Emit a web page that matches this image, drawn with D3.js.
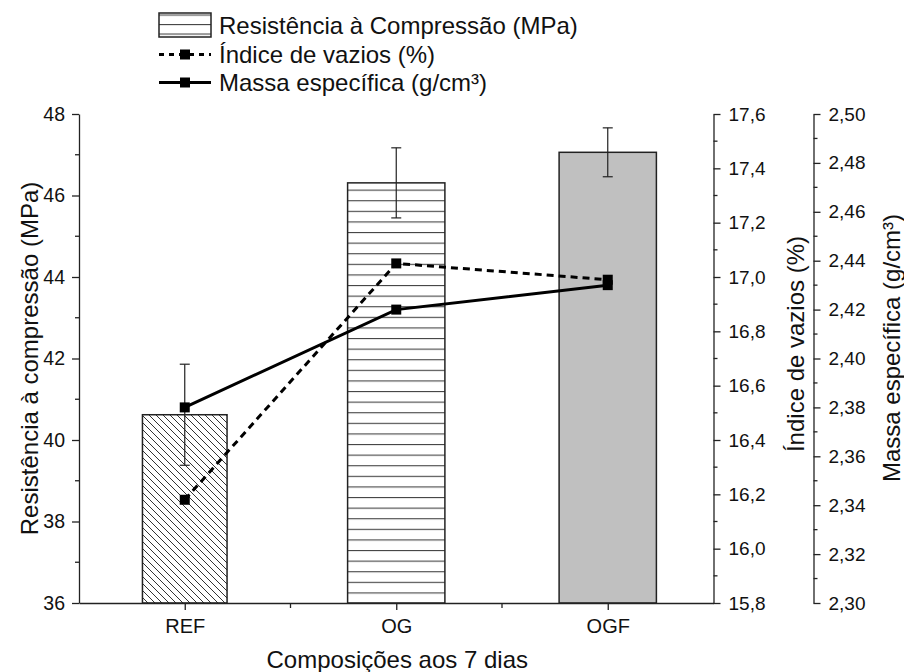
<!DOCTYPE html>
<html>
<head>
<meta charset="utf-8">
<script src="https://cdn.jsdelivr.net/npm/d3@7"></script>
<style>
  html, body { margin: 0; padding: 0; background: #fff; }
  svg { display: block; font-family: "Liberation Sans", Arial, sans-serif; }
</style>
</head>
<body>
<svg id="chart" width="904" height="672"></svg>
<script>
// ---------- data ----------
const categories = ["REF", "OG", "OGF"];
const resistencia = [40.62, 46.31, 47.06];       // MPa (bars)
const resistenciaErr = [1.24, 0.86, 0.60];       // MPa (error bars)
const indiceVazios = [16.18, 17.05, 16.99];      // %
const massaEspecifica = [2.380, 2.420, 2.430];   // g/cm³
const leftTicks = [36, 38, 40, 42, 44, 46, 48];
const indiceTicks = [15.8, 16.0, 16.2, 16.4, 16.6, 16.8, 17.0, 17.2, 17.4, 17.6];
const massaTicks = [2.30, 2.32, 2.34, 2.36, 2.38, 2.40, 2.42, 2.44, 2.46, 2.48, 2.50];
const legendLabels = ["Resistência à Compressão (MPa)", "Índice de vazios (%)", "Massa específica (g/cm³)"];

// ---------- styles ----------
const barWidthFrac = [0.40, 0.46, 0.46];
const barFills = ["url(#hatchDiag)", "url(#hatchHoriz)", "#c0c0c0"];

const svg = d3.select("#chart");
const plot = { left: 79, right: 713.5, top: 114, bottom: 603 };
const axisMassX = 813.5;

const x = d3.scaleLinear().domain([0.5, 3.5]).range([plot.left, plot.right]);
const yL = d3.scaleLinear().domain([36, 48]).range([plot.bottom, plot.top]);
const yI = d3.scaleLinear().domain([15.8, 17.6]).range([plot.bottom, plot.top]);
const yM = d3.scaleLinear().domain([2.30, 2.50]).range([plot.bottom, plot.top]);
const comma = f => v => d3.format(f)(v).replace(".", ",");

// patterns
const defs = svg.append("defs");
const pd = defs.append("pattern").attr("id", "hatchDiag").attr("patternUnits", "userSpaceOnUse")
  .attr("width", 14).attr("height", 14);
pd.append("rect").attr("width", 14).attr("height", 14).attr("fill", "#fff");
pd.append("path").attr("d", "M-7,0 L7,14 M0,0 L14,14 M7,0 L21,14 M-7,-14 L21,14")
  .attr("stroke", "#333").attr("stroke-width", 1);
const ph = defs.append("pattern").attr("id", "hatchHoriz").attr("patternUnits", "userSpaceOnUse")
  .attr("width", 20).attr("height", 10.6).attr("y", plot.bottom);
ph.append("rect").attr("width", 20).attr("height", 10.6).attr("fill", "#fff");
ph.append("line").attr("x1", 0).attr("x2", 20).attr("y1", 0.5).attr("y2", 0.5)
  .attr("stroke", "#444").attr("stroke-width", 1.2);
const phl = defs.append("pattern").attr("id", "hatchHorizLeg").attr("patternUnits", "userSpaceOnUse")
  .attr("width", 20).attr("height", 9.5).attr("y", 14.5);
phl.append("rect").attr("width", 20).attr("height", 9.5).attr("fill", "#fff");
phl.append("line").attr("x1", 0).attr("x2", 20).attr("y1", 0.5).attr("y2", 0.5)
  .attr("stroke", "#444").attr("stroke-width", 1.2);

// ---------- bars ----------
const idx = categories.map((c, i) => i);
const bw = i => barWidthFrac[i] * (x(2) - x(1));
svg.append("g").selectAll("rect").data(idx).join("rect")
  .attr("x", i => x(i + 1) - bw(i) / 2)
  .attr("width", bw)
  .attr("y", i => yL(resistencia[i]))
  .attr("height", i => yL(36) - yL(resistencia[i]))
  .attr("fill", i => barFills[i])
  .attr("stroke", "#222").attr("stroke-width", 1.5);

// error bars
const eg = svg.append("g").attr("stroke", "#222").attr("stroke-width", 1.2);
idx.forEach(i => {
  const cx = x(i + 1);
  const t = yL(resistencia[i] + resistenciaErr[i]);
  const b = yL(resistencia[i] - resistenciaErr[i]);
  eg.append("line").attr("x1", cx).attr("x2", cx).attr("y1", t).attr("y2", b);
  eg.append("line").attr("x1", cx - 5).attr("x2", cx + 5).attr("y1", t).attr("y2", t);
  eg.append("line").attr("x1", cx - 5).attr("x2", cx + 5).attr("y1", b).attr("y2", b);
});

// ---------- lines ----------
const lineI = d3.line().x((d, i) => x(i + 1)).y(d => yI(d));
const lineM = d3.line().x((d, i) => x(i + 1)).y(d => yM(d));
svg.append("path").attr("d", lineI(indiceVazios)).attr("fill", "none")
  .attr("stroke", "#000").attr("stroke-width", 3).attr("stroke-dasharray", "7,5");
svg.append("path").attr("d", lineM(massaEspecifica)).attr("fill", "none")
  .attr("stroke", "#000").attr("stroke-width", 3);
const ms = 10;
svg.append("g").selectAll("rect").data(indiceVazios).join("rect")
  .attr("x", (d, i) => x(i + 1) - ms / 2).attr("y", d => yI(d) - ms / 2)
  .attr("width", ms).attr("height", ms).attr("fill", "#000");
svg.append("g").selectAll("rect").data(massaEspecifica).join("rect")
  .attr("x", (d, i) => x(i + 1) - ms / 2).attr("y", d => yM(d) - ms / 2)
  .attr("width", ms).attr("height", ms).attr("fill", "#000");

// ---------- axes ----------
const tf = '"Liberation Sans", Arial, sans-serif';
function styleAxis(g, fs) {
  g.selectAll("path.domain").attr("stroke", "#222").attr("stroke-width", 1.3);
  g.selectAll(".tick line").attr("stroke", "#222").attr("stroke-width", 1.3);
  g.selectAll("text").attr("font-size", fs).attr("fill", "#111").attr("font-family", tf);
}
function minor(scale, vals, orient, pos, len) {
  const mg = svg.append("g").attr("stroke", "#222").attr("stroke-width", 1.3);
  vals.forEach(v => {
    const p = scale(v);
    if (orient === "left") mg.append("line").attr("x1", pos).attr("x2", pos - len).attr("y1", p).attr("y2", p);
    if (orient === "right") mg.append("line").attr("x1", pos).attr("x2", pos + len).attr("y1", p).attr("y2", p);
    if (orient === "bottom") mg.append("line").attr("x1", p).attr("x2", p).attr("y1", pos).attr("y2", pos + len);
  });
}
const mids = arr => arr.slice(1).map((v, i) => (v + arr[i]) / 2);

const gL = svg.append("g").attr("transform", `translate(${plot.left},0)`)
  .call(d3.axisLeft(yL).tickValues(leftTicks).tickSize(7).tickPadding(7).tickSizeOuter(0));
styleAxis(gL, 19.5);
minor(yL, mids(leftTicks), "left", plot.left, 4);

const gB = svg.append("g").attr("transform", `translate(0,${plot.bottom})`)
  .call(d3.axisBottom(x).tickValues([1, 2, 3]).tickFormat((d, i) => categories[i])
    .tickSize(7).tickPadding(9).tickSizeOuter(0));
styleAxis(gB, 20);
minor(x, [1.5, 2.5], "bottom", plot.bottom, 5);

const gI = svg.append("g").attr("transform", `translate(${plot.right},0)`)
  .call(d3.axisRight(yI).tickValues(indiceTicks).tickFormat(comma(".1f")).tickSize(7).tickPadding(8).tickSizeOuter(0));
styleAxis(gI, 19);
minor(yI, mids(indiceTicks), "right", plot.right, 4);

const gM = svg.append("g").attr("transform", `translate(${axisMassX},0)`)
  .call(d3.axisRight(yM).tickValues(massaTicks).tickFormat(comma(".2f")).tickSize(7).tickPadding(8).tickSizeOuter(0));
styleAxis(gM, 19);
minor(yM, mids(massaTicks), "right", axisMassX, 4);

// ---------- titles ----------
svg.append("text").attr("transform", `translate(38,${(plot.top + plot.bottom) / 2}) rotate(-90)`)
  .attr("text-anchor", "middle").attr("font-size", 24).attr("font-family", tf).attr("fill", "#111")
  .text("Resistência à compressão (MPa)");
svg.append("text").attr("transform", `translate(804,344) rotate(-90)`)
  .attr("text-anchor", "middle").attr("font-size", 24).attr("font-family", tf).attr("fill", "#111")
  .text("Índice de vazios (%)");
svg.append("text").attr("transform", `translate(900,348) rotate(-90)`)
  .attr("text-anchor", "middle").attr("font-size", 24).attr("font-family", tf).attr("fill", "#111")
  .text("Massa específica (g/cm³)");
svg.append("text").attr("x", (plot.left + plot.right) / 2 + 1).attr("y", 668)
  .attr("text-anchor", "middle").attr("font-size", 24).attr("font-family", tf).attr("fill", "#111")
  .text("Composições aos 7 dias");

// ---------- legend ----------
const lg = svg.append("g");
const lx = 159, lw = 52, tx = 219;
const rows = [25, 54.5, 82.5];
lg.append("rect").attr("x", lx).attr("y", rows[0] - 12).attr("width", lw).attr("height", 24)
  .attr("fill", "url(#hatchHorizLeg)").attr("stroke", "#222").attr("stroke-width", 1.5);
lg.append("line").attr("x1", lx).attr("x2", lx + lw).attr("y1", rows[1]).attr("y2", rows[1])
  .attr("stroke", "#000").attr("stroke-width", 3).attr("stroke-dasharray", "5,5");
lg.append("line").attr("x1", lx).attr("x2", lx + lw).attr("y1", rows[2]).attr("y2", rows[2])
  .attr("stroke", "#000").attr("stroke-width", 3);
[rows[1], rows[2]].forEach(ry => lg.append("rect").attr("x", lx + lw / 2 - 5).attr("y", ry - 5)
  .attr("width", 10).attr("height", 10).attr("fill", "#000"));
legendLabels.forEach((t, i) => lg.append("text").attr("x", tx).attr("y", rows[i] + 8.5)
  .attr("font-size", 24).attr("font-family", tf).attr("fill", "#111").text(t));
</script>
</body>
</html>
